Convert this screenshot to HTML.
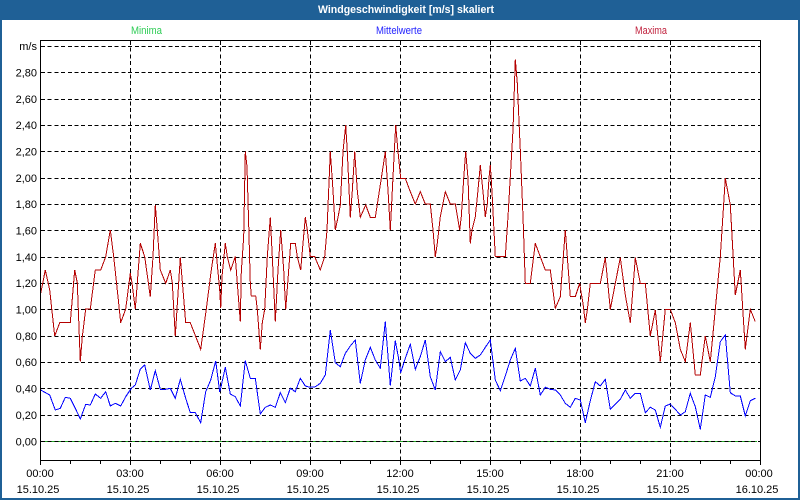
<!DOCTYPE html>
<html><head><meta charset="utf-8"><style>
html,body{margin:0;padding:0;background:#fff;}
svg{display:block;}
text{font-family:"Liberation Sans",sans-serif;}
</style></head><body>
<svg width="800" height="500" viewBox="0 0 800 500" xmlns="http://www.w3.org/2000/svg">
<rect x="0" y="0" width="800" height="500" fill="#ffffff"/>
<rect x="0" y="0" width="800" height="20" fill="#1f6096"/>
<rect x="0" y="0" width="2" height="500" fill="#1f6096"/>
<rect x="798" y="0" width="2" height="500" fill="#1f6096"/>
<rect x="0" y="498" width="800" height="2" fill="#1f6096"/>
<text x="406" y="13" fill="#ffffff" font-size="11" font-weight="bold" text-anchor="middle" textLength="176" lengthAdjust="spacingAndGlyphs">Windgeschwindigkeit [m/s] skaliert</text>
<text x="131" y="34" fill="#2ecc55" font-size="11" textLength="31" lengthAdjust="spacingAndGlyphs">Minima</text>
<text x="376" y="34" fill="#2222ff" font-size="11" textLength="46" lengthAdjust="spacingAndGlyphs">Mittelwerte</text>
<text x="635" y="34" fill="#c0203c" font-size="11" textLength="32" lengthAdjust="spacingAndGlyphs">Maxima</text>

<line x1="40" y1="441.5" x2="757" y2="441.5" stroke="#22aa22" stroke-width="1" shape-rendering="crispEdges"/>

<g stroke="#000" stroke-width="1" stroke-dasharray="4,2.7" shape-rendering="crispEdges" fill="none">
<line x1="41" y1="441.5" x2="760" y2="441.5"/>
<line x1="41" y1="415.5" x2="760" y2="415.5"/>
<line x1="41" y1="388.5" x2="760" y2="388.5"/>
<line x1="41" y1="362.5" x2="760" y2="362.5"/>
<line x1="41" y1="336.5" x2="760" y2="336.5"/>
<line x1="41" y1="309.5" x2="760" y2="309.5"/>
<line x1="41" y1="283.5" x2="760" y2="283.5"/>
<line x1="41" y1="257.5" x2="760" y2="257.5"/>
<line x1="41" y1="230.5" x2="760" y2="230.5"/>
<line x1="41" y1="204.5" x2="760" y2="204.5"/>
<line x1="41" y1="178.5" x2="760" y2="178.5"/>
<line x1="41" y1="151.5" x2="760" y2="151.5"/>
<line x1="41" y1="125.5" x2="760" y2="125.5"/>
<line x1="41" y1="99.5" x2="760" y2="99.5"/>
<line x1="41" y1="72.5" x2="760" y2="72.5"/>
<line x1="41" y1="46.5" x2="760" y2="46.5"/>
<line x1="130.5" y1="41" x2="130.5" y2="461"/>
<line x1="220.5" y1="41" x2="220.5" y2="461"/>
<line x1="310.5" y1="41" x2="310.5" y2="461"/>
<line x1="400.5" y1="41" x2="400.5" y2="461"/>
<line x1="490.5" y1="41" x2="490.5" y2="461"/>
<line x1="580.5" y1="41" x2="580.5" y2="461"/>
<line x1="670.5" y1="41" x2="670.5" y2="461"/>
</g>

<polyline fill="none" stroke="#b40000" stroke-width="1" shape-rendering="crispEdges" points="40.7,293.3 45.3,270 49.7,290 54.7,336 59.7,322.7 70.3,322.7 74.7,270 77.3,283 80.3,361.7 82.3,336.7 85.7,309 90.3,309 95.3,270 100.7,270 105.7,256.7 110.3,230 113.7,256.7 118,296.7 120.7,322.7 125.7,309 130.3,273.3 132,283 135.3,309 140.3,243.3 144.7,256.7 150.3,296.7 153,256.7 155.3,205 157.3,230 160.3,270 165.7,283.3 170.3,270 172.3,283 175.3,336 180.3,257.3 185.7,322.7 190.3,322.7 200.7,349.3 206.3,309 211.3,270 215.3,243.3 219.7,290 220.7,308 222,276.7 225.3,243.3 227.3,256.7 230.7,270 235.3,256.7 237.3,283.3 240.3,321.7 241.3,271.7 243.7,236.7 245.3,151.7 247,166.7 248.7,225 250.3,282.7 251.3,296 255.7,296 257.3,309.3 260.3,349.3 262.3,322.7 264.7,309.3 267.3,256.7 270.3,217.3 272.3,256.7 275.3,321.7 278,270 280.7,230 283.7,270 285.7,309.3 288.7,270 290.7,243.3 295.3,243.3 297.3,256.7 300.7,270 303,243.3 305.3,217.3 307.3,230 310.3,256.7 314.7,256.7 320.3,270 324.7,256.7 327,230 330.3,151.7 333,190.7 335.3,230 338,217.3 340.3,205 343,151.7 345.7,125 347.3,151.7 350.3,217.3 352.3,190.7 354.7,151.7 357.3,190.7 360.3,217.3 365.7,205 370.3,217.3 375.3,217.3 381.3,178.3 385.3,151.7 388,190 390.3,230 393.7,163.3 395.7,125 398,151.7 400.7,178.3 405.3,178.3 410.3,191.7 415.3,204 420.3,191.7 425.3,204 430.3,204 433,230 435.3,256.7 437.3,243.3 440.3,216.7 445.3,191.7 450.3,204 455.3,204 459.7,230 461.3,216.7 463.7,178.3 465.7,151.7 468,178.3 470.3,243.3 472,230 475.3,216.7 478,190 480.3,165 483,191.7 485.3,216.7 487.3,204 489,178.3 490.3,165 492,191.7 495.3,256.7 505.3,256.7 508,216.7 513,130 515.3,59.3 517.3,83.3 520.3,150 523,216.7 525.3,283.3 530.3,283.3 535.3,243.3 540.3,256.7 545.3,270 550.3,270 555.3,308.3 560.3,296.7 565.3,230 570.3,296.7 575.3,296.7 579.7,283.3 581,292 583,303.3 585.3,322.7 587.3,310 590.3,283.3 600.3,283.3 605.3,257.7 610.3,309.3 615.3,283.3 620.3,257.7 625.3,295 630.3,322.7 635.3,257.7 640.3,283.3 645.3,283.3 650.3,336 655.3,310 660.3,361.7 665.3,309.3 670.3,309.3 675.3,322.7 680.3,349.3 685.3,361.7 690.3,322.7 695.3,375 700.3,375 705.3,336 710.3,361.7 715.3,309.3 720.3,256.7 725.3,178.3 730.3,205 735.3,295 740.3,270 745.3,349.3 750.3,309.3 755.3,321.7"/>

<polyline fill="none" stroke="#0000ff" stroke-width="1" shape-rendering="crispEdges" points="40.7,390 49.7,395 55.3,410 60.3,408.3 65.3,397.3 70.3,398.3 75.3,408.3 80.3,419 85.7,404.3 90.3,405 95.3,394 100.7,398.3 105.7,391.7 110.3,406 115.3,403.3 120.7,406 125.7,396.7 131.3,388.3 135.3,385 140.3,369 144.7,365 150.3,390 155.3,370.7 160.3,389.3 165.7,389.3 170.3,388.3 175.3,398.3 180.3,379.3 185.7,398.3 190.3,412.7 195.3,412.7 200.7,422.7 205.7,391.7 210.7,380 215.7,361 219.7,391.7 220.7,388.3 225.3,367.3 230.3,394 235.3,396.7 240.3,406 245.3,360.7 250.3,378.3 255.3,378.3 260.3,414 265.3,407.3 270.3,405 275.3,407.3 280.3,392.7 285.3,402.7 290.3,388.3 295.3,391.7 300.3,378.3 305.3,386 310.3,387.3 315.3,386.7 320.3,383.3 325.3,375 330.3,330 335.3,362.7 340.3,366.7 345.3,353.3 350.3,346 355.3,340 360.3,383.3 365.3,360 370.3,347.3 375.3,360 380.3,368.3 385.3,321.7 390.3,385.7 395.3,340.7 398.5,358 400.7,372.7 405.3,358.3 410.3,344.3 415.3,369.3 420.3,356.7 425.3,340 430.3,376.7 435.3,390 440.3,351.7 445.3,361.7 450.3,357.3 455.3,380 460.3,370 465.3,342.7 470.3,353.3 475.3,358.3 480.3,355 485.3,347.3 490.3,340 495.3,380 500.3,390.7 505.3,376 510.3,360 515.3,348.3 520.3,381 525.3,378.3 530.3,386 535.3,368.3 540.3,395 545.3,387.3 550.3,389.3 555.3,390 560.3,395 565.3,403.3 570.3,407.3 575.3,398.3 580.3,400 585.3,422.7 590.3,400.7 595.3,381.7 600.3,386 605.3,379.3 610.3,409.3 615.3,404 620.3,399.3 625.3,390 630.3,398.3 635.3,393.3 640.3,393.3 645.3,412.7 650.3,407.3 655.3,410 660.3,427.3 665.3,406 670.3,404 675.3,409.3 680.3,415 685.3,411.7 690.3,393.3 695.3,406.7 700.3,429.3 705.3,395 710.3,397.3 715.3,376.7 720.3,341.7 725.3,335 730.3,392.7 735.3,396 740.3,396 745.3,416 750.3,400.7 755.3,398.3"/>

<rect x="40.5" y="40.5" width="720" height="420" fill="none" stroke="#000" stroke-width="1" shape-rendering="crispEdges"/>

<g stroke="#000" stroke-width="1" shape-rendering="crispEdges">
<line x1="40.5" y1="461" x2="40.5" y2="465"/><line x1="70.5" y1="461" x2="70.5" y2="464"/><line x1="100.5" y1="461" x2="100.5" y2="464"/>
<line x1="130.5" y1="461" x2="130.5" y2="465"/><line x1="160.5" y1="461" x2="160.5" y2="464"/><line x1="190.5" y1="461" x2="190.5" y2="464"/>
<line x1="220.5" y1="461" x2="220.5" y2="465"/><line x1="250.5" y1="461" x2="250.5" y2="464"/><line x1="280.5" y1="461" x2="280.5" y2="464"/>
<line x1="310.5" y1="461" x2="310.5" y2="465"/><line x1="340.5" y1="461" x2="340.5" y2="464"/><line x1="370.5" y1="461" x2="370.5" y2="464"/>
<line x1="400.5" y1="461" x2="400.5" y2="465"/><line x1="430.5" y1="461" x2="430.5" y2="464"/><line x1="460.5" y1="461" x2="460.5" y2="464"/>
<line x1="490.5" y1="461" x2="490.5" y2="465"/><line x1="520.5" y1="461" x2="520.5" y2="464"/><line x1="550.5" y1="461" x2="550.5" y2="464"/>
<line x1="580.5" y1="461" x2="580.5" y2="465"/><line x1="610.5" y1="461" x2="610.5" y2="464"/><line x1="640.5" y1="461" x2="640.5" y2="464"/>
<line x1="670.5" y1="461" x2="670.5" y2="465"/><line x1="700.5" y1="461" x2="700.5" y2="464"/><line x1="730.5" y1="461" x2="730.5" y2="464"/>
<line x1="760.5" y1="461" x2="760.5" y2="465"/>
</g>

<g font-size="11" fill="#000" text-anchor="end">
<text x="37" y="445.5">0,00</text>
<text x="37" y="419">0,20</text>
<text x="37" y="392.5">0,40</text>
<text x="37" y="366">0,60</text>
<text x="37" y="340">0,80</text>
<text x="37" y="313.5">1,00</text>
<text x="37" y="287">1,20</text>
<text x="37" y="261">1,40</text>
<text x="37" y="234.5">1,60</text>
<text x="37" y="208">1,80</text>
<text x="37" y="182">2,00</text>
<text x="37" y="155.5">2,20</text>
<text x="37" y="129">2,40</text>
<text x="37" y="103">2,60</text>
<text x="37" y="76.5">2,80</text>
<text x="37" y="50">m/s</text>
</g>

<g font-size="11" fill="#000" text-anchor="middle">
<text x="40" y="477">00:00</text><text x="38" y="493">15.10.25</text>
<text x="130" y="477">03:00</text><text x="128" y="493">15.10.25</text>
<text x="220" y="477">06:00</text><text x="218" y="493">15.10.25</text>
<text x="310" y="477">09:00</text><text x="308" y="493">15.10.25</text>
<text x="400" y="477">12:00</text><text x="398" y="493">15.10.25</text>
<text x="490" y="477">15:00</text><text x="488" y="493">15.10.25</text>
<text x="580" y="477">18:00</text><text x="578" y="493">15.10.25</text>
<text x="670" y="477">21:00</text><text x="668" y="493">15.10.25</text>
<text x="759" y="477">00:00</text><text x="757" y="493">16.10.25</text>
</g>
</svg>
</body></html>
